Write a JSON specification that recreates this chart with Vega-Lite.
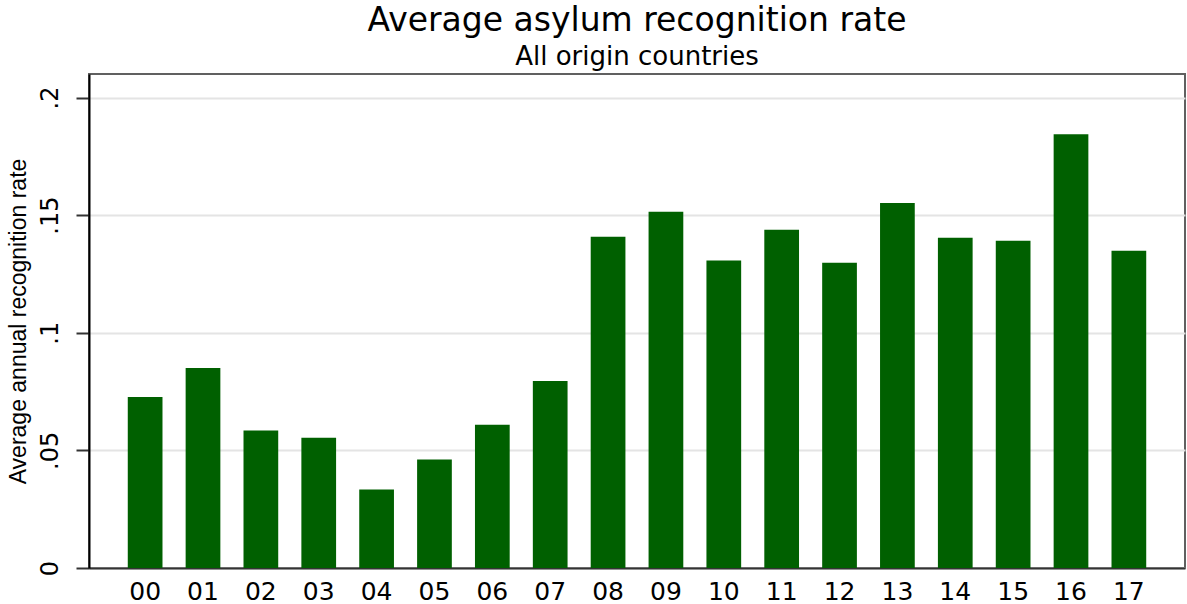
{
  "$schema": "https://vega.github.io/schema/vega-lite/v6.json",
  "width": 1096,
  "height": 494,
  "autosize": {"type": "none"},
  "padding": {"left": 89, "top": 74, "right": 2, "bottom": 36},
  "background": "white",
  "title": {
    "text": "Average asylum recognition rate",
    "subtitle": "All origin countries",
    "anchor": "middle",
    "font": "DejaVu Sans",
    "fontSize": 33,
    "fontWeight": "normal",
    "color": "black",
    "subtitleFont": "DejaVu Sans",
    "subtitleFontSize": 26,
    "subtitleColor": "black",
    "subtitlePadding": 6,
    "offset": 4
  },
  "data": {
    "values": [
      {"year": "00", "rate": 0.0727},
      {"year": "01", "rate": 0.0850},
      {"year": "02", "rate": 0.0584},
      {"year": "03", "rate": 0.0554},
      {"year": "04", "rate": 0.0334},
      {"year": "05", "rate": 0.0461},
      {"year": "06", "rate": 0.0609},
      {"year": "07", "rate": 0.0795},
      {"year": "08", "rate": 0.1408},
      {"year": "09", "rate": 0.1514},
      {"year": "10", "rate": 0.1307},
      {"year": "11", "rate": 0.1438},
      {"year": "12", "rate": 0.1298},
      {"year": "13", "rate": 0.1552},
      {"year": "14", "rate": 0.1404},
      {"year": "15", "rate": 0.1391},
      {"year": "16", "rate": 0.1844},
      {"year": "17", "rate": 0.1349}
    ]
  },
  "mark": {"type": "bar", "color": "#006000"},
  "encoding": {
    "x": {
      "field": "year",
      "type": "nominal",
      "sort": null,
      "scale": {"paddingInner": 0.4, "paddingOuter": 0.67},
      "axis": {
        "title": null,
        "labelAngle": 0,
        "ticks": false,
        "labelFont": "DejaVu Sans",
        "labelFontSize": 25,
        "labelColor": "black",
        "labelPadding": 11,
        "domainColor": "#333333",
        "domainWidth": 2,
        "grid": false
      }
    },
    "y": {
      "field": "rate",
      "type": "quantitative",
      "scale": {"domain": [0, 0.21], "nice": false, "zero": true},
      "axis": {
        "title": "Average annual recognition rate",
        "titleFont": "Liberation Sans",
        "titleFontSize": 23,
        "titleFontWeight": "normal",
        "titleColor": "black",
        "titlePadding": 8,
        "values": [0, 0.05, 0.1, 0.15, 0.2],
        "labelExpr": "datum.value == 0 ? '0' : slice(format(datum.value, '~g'), 1)",
        "labelAngle": -90,
        "labelAlign": "center",
        "labelBaseline": "bottom",
        "labelFont": "DejaVu Sans",
        "labelFontSize": 24,
        "labelColor": "black",
        "labelPadding": 14,
        "tickSize": 13,
        "tickColor": "#333333",
        "tickWidth": 2,
        "domainColor": "black",
        "domainWidth": 2,
        "grid": true,
        "gridColor": "#e4e4e4",
        "gridWidth": 2
      }
    }
  },
  "config": {
    "view": {"stroke": "#606060", "strokeWidth": 2}
  }
}
